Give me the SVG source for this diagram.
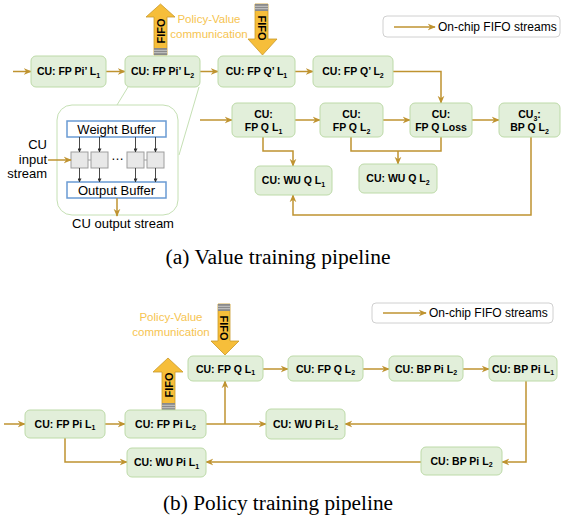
<svg xmlns="http://www.w3.org/2000/svg" width="561" height="521" viewBox="0 0 561 521">
<style>
.nd{fill:#E2EFDA;stroke:#BDDAA8;stroke-width:1}
.t{font-family:"Liberation Sans",Arial,sans-serif;font-weight:bold;font-size:10.5px;text-anchor:middle;fill:#000}
.s{font-size:7px}
.c{fill:none;stroke:#BF9330;stroke-width:1.5;marker-end:url(#ah)}
.cl{fill:none;stroke:#BF9330;stroke-width:1.5}
.lg{fill:#fff;stroke:#D0D0D0;stroke-width:1}
.lt{font-family:"Liberation Sans",Arial,sans-serif;font-size:12px;fill:#000}
.fifo{fill:#F6BE3A;stroke:#C9992A;stroke-width:0.8}
.ft{font-family:"Liberation Sans",Arial,sans-serif;font-weight:bold;font-size:11px;text-anchor:middle;dominant-baseline:central;fill:#000}
.pv{font-family:"Liberation Sans",Arial,sans-serif;font-size:11.5px;text-anchor:middle;fill:#F6C451}
.cap{font-family:"Liberation Serif","Times New Roman",serif;font-size:20px;text-anchor:middle;fill:#000}
.buf{fill:#fff;stroke:#6A9BD3;stroke-width:1.5}
.bt{font-family:"Liberation Sans",Arial,sans-serif;font-size:13px;text-anchor:middle;fill:#000}
.pe{fill:#E8E8E8;stroke:#9E9E9E;stroke-width:1}
.ka{stroke:#333;stroke-width:0.9;marker-end:url(#ka)}
.strp{fill:#8A8A8A}
.sl{stroke:#D5D5D5;stroke-width:0.8}
</style>
<defs>
<marker id="ah" viewBox="0 0 10 10" refX="9" refY="5" markerWidth="8" markerHeight="8" orient="auto" markerUnits="userSpaceOnUse">
<path d="M0,0.8 L10,5 L0,9.2 L3,5 z" fill="#BF9330"/>
</marker>
<marker id="ka" viewBox="0 0 10 10" refX="9" refY="5" markerWidth="4" markerHeight="4" orient="auto" markerUnits="userSpaceOnUse">
<path d="M0,0 L10,5 L0,10 z" fill="#333"/>
</marker>
</defs>

<!-- ===== (a) Value training pipeline ===== -->
<g id="legendA">
<rect class="lg" x="383" y="16" width="177" height="21" rx="4"/>
<line class="c" x1="394" y1="27" x2="435" y2="27"/>
<text class="lt" x="438" y="31">On-chip FIFO streams</text>
</g>

<g id="inset-links">
<line x1="128" y1="87" x2="117" y2="105" stroke="#C5E0B4" stroke-width="1"/>
<line x1="199" y1="87" x2="179" y2="155" stroke="#C5E0B4" stroke-width="1"/>
</g>

<g id="connectorsA">
<line class="c" x1="13" y1="71.5" x2="31" y2="71.5"/>
<line class="c" x1="106" y1="71.5" x2="125" y2="71.5"/>
<line class="c" x1="200" y1="71.5" x2="218" y2="71.5"/>
<line class="c" x1="295" y1="71.5" x2="313" y2="71.5"/>
<polyline class="c" points="393,71.5 441,71.5 441,103"/>
<line class="c" x1="200" y1="120" x2="232" y2="120"/>
<line class="c" x1="295" y1="120" x2="320" y2="120"/>
<line class="c" x1="383" y1="120" x2="410" y2="120"/>
<line class="c" x1="472" y1="120" x2="499" y2="120"/>
<polyline class="c" points="263,137 263,151 293,151 293,166"/>
<polyline class="cl" points="351,137 351,151 441,151 441,137"/>
<line class="c" x1="398" y1="151" x2="398" y2="164"/>
<polyline class="c" points="531,137 531,215 293,215 293,195"/>
</g>

<g id="fifoA-up">
<polygon class="fifo" points="160.5,4 175,17 167,17 167,55 154,55 154,17 146,17"/>
<rect class="strp" x="154" y="48" width="13" height="7"/>
<line class="sl" x1="154" y1="50.3" x2="167" y2="50.3"/>
<line class="sl" x1="154" y1="52.7" x2="167" y2="52.7"/>
<text class="ft" transform="translate(160.5,31) rotate(-90)">FIFO</text>
</g>
<g id="fifoA-down">
<polygon class="fifo" points="255,4 268,4 268,39 277,39 262.5,55 248,39 255,39"/>
<rect class="strp" x="255" y="4" width="13" height="7"/>
<line class="sl" x1="255" y1="6.3" x2="268" y2="6.3"/>
<line class="sl" x1="255" y1="8.7" x2="268" y2="8.7"/>
<text class="ft" transform="translate(261.5,28) rotate(90)">FIFO</text>
</g>
<g id="pvA">
<text class="pv" x="209" y="23">Policy-Value</text>
<text class="pv" x="209" y="38">communication</text>
</g>

<g id="a-fppi1"><rect class="nd" x="31" y="56" width="75" height="31" rx="5"/><text class="t" x="68.5" y="75.3">CU: FP Pi’ L<tspan class="s" dy="2.5">1</tspan></text></g>
<g id="a-fppi2"><rect class="nd" x="125" y="56" width="75" height="31" rx="5"/><text class="t" x="162.5" y="75.3">CU: FP Pi’ L<tspan class="s" dy="2.5">2</tspan></text></g>
<g id="a-fpq1p"><rect class="nd" x="218" y="56" width="77" height="31" rx="5"/><text class="t" x="256.5" y="75.3">CU: FP Q’ L<tspan class="s" dy="2.5">1</tspan></text></g>
<g id="a-fpq2p"><rect class="nd" x="313" y="56" width="80" height="31" rx="5"/><text class="t" x="353" y="75.3">CU: FP Q’ L<tspan class="s" dy="2.5">2</tspan></text></g>

<g id="a-fpq1"><rect class="nd" x="232" y="103" width="63" height="34" rx="5"/><text class="t" x="263.5" y="118">CU:</text><text class="t" x="263.5" y="131">FP Q L<tspan class="s" dy="2.5">1</tspan></text></g>
<g id="a-fpq2"><rect class="nd" x="320" y="103" width="63" height="34" rx="5"/><text class="t" x="351.5" y="118">CU:</text><text class="t" x="351.5" y="131">FP Q L<tspan class="s" dy="2.5">2</tspan></text></g>
<g id="a-loss"><rect class="nd" x="410" y="103" width="62" height="34" rx="5"/><text class="t" x="441" y="118">CU:</text><text class="t" x="441" y="131">FP Q Loss</text></g>
<g id="a-bpq2"><rect class="nd" x="499" y="103" width="61" height="34" rx="5"/><text class="t" x="529.5" y="118">CU<tspan class="s" dy="2.5">3</tspan><tspan dy="-2.5">:</tspan></text><text class="t" x="529.5" y="131">BP Q L<tspan class="s" dy="2.5">2</tspan></text></g>
<g id="a-wuq1"><rect class="nd" x="255" y="166" width="77" height="29" rx="5"/><text class="t" x="293.5" y="184">CU: WU Q L<tspan class="s" dy="2.5">1</tspan></text></g>
<g id="a-wuq2"><rect class="nd" x="359" y="164" width="78" height="29" rx="5"/><text class="t" x="398" y="182">CU: WU Q L<tspan class="s" dy="2.5">2</tspan></text></g>

<g id="inset">
<rect x="57" y="105" width="121" height="110" rx="15" fill="#fff" stroke="#C5E0B4" stroke-width="1"/>
<rect class="buf" x="67" y="121" width="99" height="16"/>
<text class="bt" x="116.5" y="134">Weight Buffer</text>
<rect class="buf" x="67" y="182" width="99" height="16"/>
<text class="bt" x="116.5" y="195">Output Buffer</text>
<line x1="88" y1="160" x2="91" y2="160" stroke="#9E9E9E" stroke-width="1"/>
<line x1="144" y1="160" x2="147" y2="160" stroke="#9E9E9E" stroke-width="1"/>
<rect class="pe" x="71" y="152" width="17" height="16"/>
<rect class="pe" x="91" y="152" width="17" height="16"/>
<rect class="pe" x="127" y="152" width="17" height="16"/>
<rect class="pe" x="147" y="152" width="17" height="16"/>
<text class="bt" x="117.5" y="160" font-size="11">…</text>
<line class="ka" x1="79.5" y1="137" x2="79.5" y2="152"/>
<line class="ka" x1="99.5" y1="137" x2="99.5" y2="152"/>
<line class="ka" x1="135.5" y1="137" x2="135.5" y2="152"/>
<line class="ka" x1="155.5" y1="137" x2="155.5" y2="152"/>
<line class="ka" x1="79.5" y1="168" x2="79.5" y2="182"/>
<line class="ka" x1="99.5" y1="168" x2="99.5" y2="182"/>
<line class="ka" x1="135.5" y1="168" x2="135.5" y2="182"/>
<line class="ka" x1="155.5" y1="168" x2="155.5" y2="182"/>
<line class="c" x1="48" y1="160" x2="71" y2="160"/>
<line class="c" x1="117" y1="198" x2="117" y2="216"/>
<text class="bt" style="text-anchor:end" x="47" y="149">CU</text>
<text class="bt" style="text-anchor:end" x="47" y="164">input</text>
<text class="bt" style="text-anchor:end" x="47" y="178">stream</text>
<text class="bt" x="123" y="228">CU output stream</text>
</g>

<text class="cap" x="278" y="264" textLength="225" lengthAdjust="spacingAndGlyphs">(a) Value training pipeline</text>

<!-- ===== (b) Policy training pipeline ===== -->
<g id="legendB">
<rect class="lg" x="372" y="303" width="181" height="20" rx="4"/>
<line class="c" x1="383" y1="313" x2="426" y2="313"/>
<text class="lt" x="429" y="317">On-chip FIFO streams</text>
</g>

<g id="connectorsB">
<line class="c" x1="263" y1="369" x2="288" y2="369"/>
<line class="c" x1="363" y1="369" x2="389" y2="369"/>
<line class="c" x1="463" y1="369" x2="489" y2="369"/>
<polyline class="c" points="526,381 526,462 502,462"/>
<line class="c" x1="526" y1="424" x2="345" y2="424"/>
<line class="c" x1="4" y1="424" x2="25" y2="424"/>
<line class="c" x1="105" y1="424" x2="125" y2="424"/>
<line class="c" x1="206" y1="424" x2="266" y2="424"/>
<line class="c" x1="225" y1="424" x2="225" y2="381"/>
<line class="c" x1="421" y1="462" x2="206" y2="462"/>
<polyline class="c" points="65,438 65,462 127,462"/>
</g>

<g id="pvB">
<text class="pv" x="171" y="321">Policy-Value</text>
<text class="pv" x="171" y="336">communication</text>
</g>
<g id="fifoB-down">
<polygon class="fifo" points="218,304 230,304 230,341 239,341 225,355 211,341 218,341"/>
<rect class="strp" x="218" y="304" width="12" height="7"/>
<line class="sl" x1="218" y1="306.3" x2="230" y2="306.3"/>
<line class="sl" x1="218" y1="308.7" x2="230" y2="308.7"/>
<text class="ft" transform="translate(224,328) rotate(90)">FIFO</text>
</g>
<g id="fifoB-up">
<polygon class="fifo" points="168,358 183,372 175,372 175,410 162,410 162,372 153,372"/>
<rect class="strp" x="162" y="403" width="13" height="7"/>
<line class="sl" x1="162" y1="405.3" x2="175" y2="405.3"/>
<line class="sl" x1="162" y1="407.7" x2="175" y2="407.7"/>
<text class="ft" transform="translate(168.5,385) rotate(-90)">FIFO</text>
</g>

<g id="b-fpq1"><rect class="nd" x="188" y="356" width="75" height="25" rx="5"/><text class="t" x="225.5" y="372.5">CU: FP Q L<tspan class="s" dy="2.5">1</tspan></text></g>
<g id="b-fpq2"><rect class="nd" x="288" y="356" width="75" height="25" rx="5"/><text class="t" x="325.5" y="372.5">CU: FP Q L<tspan class="s" dy="2.5">2</tspan></text></g>
<g id="b-bppi2"><rect class="nd" x="389" y="356" width="74" height="25" rx="5"/><text class="t" x="426" y="372.5">CU: BP Pi L<tspan class="s" dy="2.5">2</tspan></text></g>
<g id="b-bppi1"><rect class="nd" x="489" y="356" width="68" height="25" rx="5"/><text class="t" x="523" y="372.5">CU: BP Pi L<tspan class="s" dy="2.5">1</tspan></text></g>
<g id="b-fppi1"><rect class="nd" x="25" y="410" width="80" height="28" rx="5"/><text class="t" x="65" y="427.5">CU: FP Pi L<tspan class="s" dy="2.5">1</tspan></text></g>
<g id="b-fppi2"><rect class="nd" x="125" y="410" width="81" height="28" rx="5"/><text class="t" x="165.5" y="427.5">CU: FP Pi L<tspan class="s" dy="2.5">2</tspan></text></g>
<g id="b-wupi2"><rect class="nd" x="266" y="409" width="79" height="30" rx="5"/><text class="t" x="305.5" y="427.5">CU: WU Pi L<tspan class="s" dy="2.5">2</tspan></text></g>
<g id="b-wupi1"><rect class="nd" x="127" y="448" width="79" height="29" rx="5"/><text class="t" x="166.5" y="466">CU: WU Pi L<tspan class="s" dy="2.5">1</tspan></text></g>
<g id="b-bppi2b"><rect class="nd" x="421" y="447" width="81" height="28" rx="5"/><text class="t" x="461.5" y="464.5">CU: BP Pi L<tspan class="s" dy="2.5">2</tspan></text></g>

<text class="cap" x="278" y="510" textLength="230" lengthAdjust="spacingAndGlyphs">(b) Policy training pipeline</text>
</svg>
